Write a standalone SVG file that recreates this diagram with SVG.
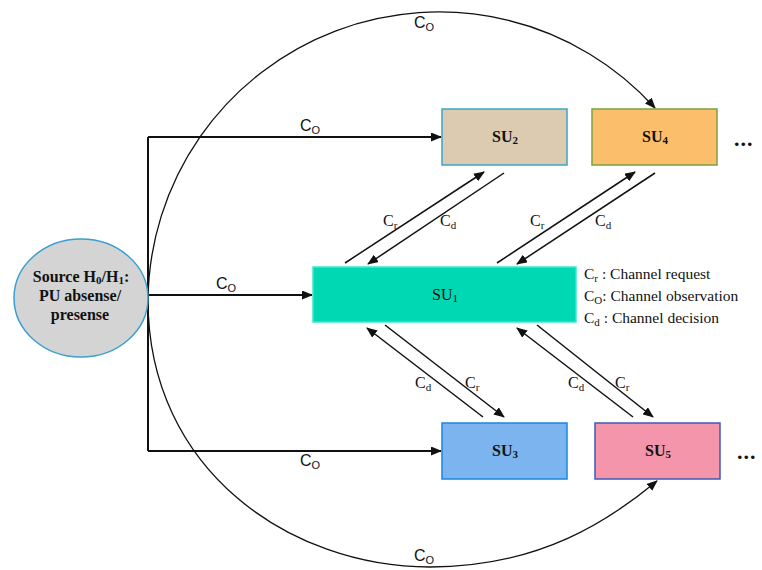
<svg xmlns="http://www.w3.org/2000/svg" width="762" height="570" viewBox="0 0 762 570">
<style>
.ser{font-family:"Liberation Serif","Times New Roman",serif;fill:#111}
.san{font-family:"Liberation Sans",Arial,sans-serif;fill:#111;font-size:16px}
.b{font-weight:bold}
.ln{fill:none;stroke:#111}
.sub{font-size:11px}
</style>
<defs>
<marker id="ah" markerUnits="userSpaceOnUse" markerWidth="11" markerHeight="9" refX="10" refY="4.5" orient="auto">
<path d="M0,0 L11,4.5 L0,9 z" fill="#111"/>
</marker>
</defs>
<rect width="762" height="570" fill="#fff"/>

<g id="connectors">
<path class="ln" stroke-width="2" d="M148,137 V451"/>
<path class="ln" stroke-width="2" d="M148,137 H441" marker-end="url(#ah)"/>
<path class="ln" stroke-width="2" d="M148,295 H312" marker-end="url(#ah)"/>
<path class="ln" stroke-width="2" d="M148,451 H441" marker-end="url(#ah)"/>
<path class="ln" stroke-width="1.5" d="M345,263 L484,172" marker-end="url(#ah)"/>
<path class="ln" stroke-width="1.5" d="M504,173 L368,264" marker-end="url(#ah)"/>
<path class="ln" stroke-width="1.5" d="M497,263 L635,172" marker-end="url(#ah)"/>
<path class="ln" stroke-width="1.5" d="M655,173 L517,264" marker-end="url(#ah)"/>
<path class="ln" stroke-width="1.5" d="M483,417 L367,328" marker-end="url(#ah)"/>
<path class="ln" stroke-width="1.5" d="M385,325 L504,417" marker-end="url(#ah)"/>
<path class="ln" stroke-width="1.5" d="M633,417 L517,328" marker-end="url(#ah)"/>
<path class="ln" stroke-width="1.5" d="M537,325 L653,417" marker-end="url(#ah)"/>
<path class="ln" stroke-width="1.3" d="M148,300 A291,291 0 0 1 655,108" marker-end="url(#ah)"/>
<path class="ln" stroke-width="1.3" d="M148,300 C148,470 290,567 430,567 C540,567 610,520 657,481" marker-end="url(#ah)"/>
<text class="san" x="414" y="28">C<tspan class="sub" dy="3">O</tspan></text>
<text class="san" x="414" y="561">C<tspan class="sub" dy="3">O</tspan></text>
<text class="san" x="300" y="131">C<tspan class="sub" dy="3">O</tspan></text>
<text class="san" x="216" y="289">C<tspan class="sub" dy="3">O</tspan></text>
<text class="san" x="300" y="466">C<tspan class="sub" dy="3">O</tspan></text>
<text class="ser" font-size="16" x="383" y="226">C<tspan class="sub" dy="3">r</tspan></text>
<text class="ser" font-size="16" x="440" y="226">C<tspan class="sub" dy="3">d</tspan></text>
<text class="ser" font-size="16" x="530" y="226">C<tspan class="sub" dy="3">r</tspan></text>
<text class="ser" font-size="16" x="595" y="226">C<tspan class="sub" dy="3">d</tspan></text>
<text class="ser" font-size="16" x="415" y="388">C<tspan class="sub" dy="3">d</tspan></text>
<text class="ser" font-size="16" x="465" y="388">C<tspan class="sub" dy="3">r</tspan></text>
<text class="ser" font-size="16" x="568" y="388">C<tspan class="sub" dy="3">d</tspan></text>
<text class="ser" font-size="16" x="615" y="388">C<tspan class="sub" dy="3">r</tspan></text>
</g>

<g id="source">
<ellipse cx="81" cy="298" rx="67" ry="59" fill="#d4d4d4" stroke="#3a9fd0" stroke-width="1.5"/>
<text class="ser b" font-size="16" text-anchor="middle" x="81" y="282">Source H<tspan font-size="11" dy="2">0</tspan><tspan dy="-2">/H</tspan><tspan font-size="11" dy="2">1</tspan><tspan dy="-2">:</tspan></text>
<text class="ser b" font-size="16" text-anchor="middle" x="80" y="301">PU absense/</text>
<text class="ser b" font-size="16" text-anchor="middle" x="80" y="320">presense</text>
</g>

<g id="su1">
<rect x="313" y="267" width="263" height="55" fill="#00d8b4" stroke="#3fe6c8" stroke-width="1.5"/>
<text class="ser" font-size="16" text-anchor="middle" x="445" y="300">SU<tspan class="sub" dy="2">1</tspan></text>
</g>
<g id="su2">
<rect x="442" y="109" width="125" height="56" fill="#dccbb0" stroke="#3aa6c8" stroke-width="1.5"/>
<text class="ser b" font-size="16" text-anchor="middle" x="505" y="142">SU<tspan class="sub" dy="2">2</tspan></text>
</g>
<g id="su4">
<rect x="592" y="109" width="125" height="56" fill="#fbbf6c" stroke="#7ba23f" stroke-width="1.5"/>
<text class="ser b" font-size="16" text-anchor="middle" x="655" y="142">SU<tspan class="sub" dy="2">4</tspan></text>
</g>
<g id="su3">
<rect x="442" y="423" width="125" height="56" fill="#7cb4f0" stroke="#1a87e0" stroke-width="1.5"/>
<text class="ser b" font-size="16" text-anchor="middle" x="505" y="456">SU<tspan class="sub" dy="2">3</tspan></text>
</g>
<g id="su5">
<rect x="595" y="423" width="125" height="56" fill="#f595ab" stroke="#3c5bb8" stroke-width="1.5"/>
<text class="ser b" font-size="16" text-anchor="middle" x="658" y="456">SU<tspan class="sub" dy="2">5</tspan></text>
</g>
<g id="ellipsis">
<text class="ser b" font-size="22" x="734" y="146" letter-spacing="1">...</text>
<text class="ser b" font-size="22" x="737" y="459" letter-spacing="1">...</text>
</g>
<g id="legend">
<text class="ser" font-size="15.5" x="584" y="279">C<tspan class="sub" dy="3">r</tspan><tspan dy="-3"> : Channel request</tspan></text>
<text class="ser" font-size="15.5" x="584" y="301">C<tspan class="sub" dy="3">O</tspan><tspan dy="-3">: Channel observation</tspan></text>
<text class="ser" font-size="15.5" x="584" y="323">C<tspan class="sub" dy="3">d</tspan><tspan dy="-3"> : Channel decision</tspan></text>
</g>
</svg>
